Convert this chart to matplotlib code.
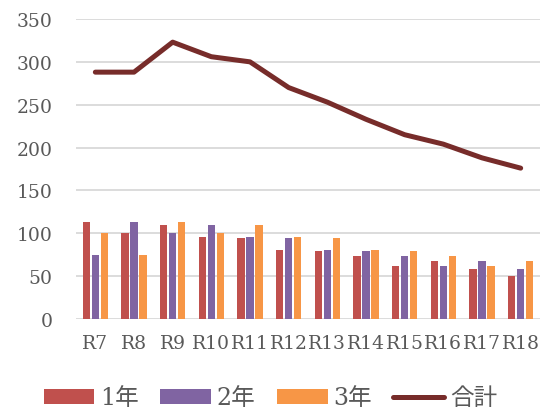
import matplotlib
matplotlib.use("Agg")
import matplotlib.pyplot as plt
import numpy as np

plt.rcParams['font.family'] = ['DejaVu Serif', 'Noto Sans CJK JP']

categories = ["R7", "R8", "R9", "R10", "R11", "R12", "R13", "R14", "R15", "R16", "R17", "R18"]
year1 = [113, 100, 110, 96, 94, 80, 79, 74, 62, 68, 58, 50]
year2 = [75, 113, 100, 110, 96, 94, 80, 79, 74, 62, 68, 58]
year3 = [100, 75, 113, 100, 110, 96, 94, 80, 79, 74, 62, 68]
total = [288, 288, 323, 306, 300, 270, 253, 233, 215, 204, 188, 176]
yticks = [0, 50, 100, 150, 200, 250, 300, 350]

fig = plt.figure(figsize=(5.41, 4.14), dpi=100)
ax = fig.add_axes([76/541, 1 - 320/414, 464/541, 300/414])

x = np.arange(len(categories))
w = 0.19
off = 0.235
b1 = ax.bar(x - off, year1, w, color="#C0504D", zorder=2)
b2 = ax.bar(x, year2, w, color="#8064A2", zorder=2)
b3 = ax.bar(x + off, year3, w, color="#F79646", zorder=2)
ln, = ax.plot(x, total, color="#772C2A", lw=3.6, solid_capstyle="round", zorder=3)

ax.set_xlim(-0.5, len(categories) - 0.5)
ax.set_ylim(0, 350)
ax.set_yticks(yticks)
ax.set_xticks(x)
ax.set_xticklabels(categories)
ax.grid(axis="y", color="#D9D9D9", lw=1.3, zorder=0)
ax.set_axisbelow(True)
for s in ax.spines.values():
    s.set_visible(False)
ax.tick_params(axis="both", length=0, labelsize=13.5, colors="#595959")
ax.tick_params(axis="y", pad=17)
ax.tick_params(axis="x", pad=11)

leg = fig.legend([b1, b2, b3, ln], ["1年", "2年", "3年", "合計"], loc="center",
                 bbox_to_anchor=(0.5, 1 - 399/414), ncol=4,
                 frameon=False, fontsize=17, labelcolor="#595959",
                 handlelength=2.15, handleheight=0.6, handletextpad=0.25, columnspacing=0.9)

fig.savefig("out.png", dpi=100)
